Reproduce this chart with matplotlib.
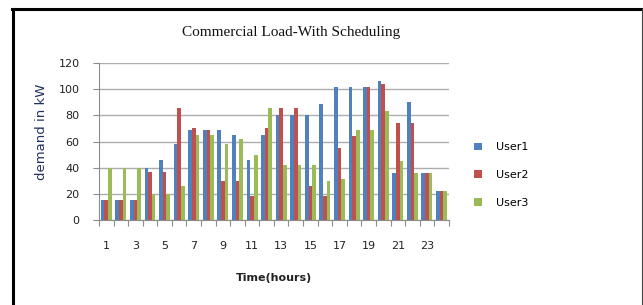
import matplotlib.pyplot as plt
from matplotlib.lines import Line2D
import numpy as np

# hourly demand (kW) per user
hours = np.arange(1, 25)
user1 = [15, 15, 15, 40, 46, 58, 69, 69, 69, 65, 46, 65,
         80, 80, 80, 89, 102, 102, 102, 106, 36, 90, 36, 22]
user2 = [15, 15, 15, 37, 37, 86, 70, 69, 30, 30, 18, 70,
         86, 86, 26, 18, 55, 64, 102, 104, 74, 74, 36, 22]
user3 = [40, 40, 40, 20, 20, 26, 65, 65, 58, 62, 50, 86,
         42, 42, 42, 30, 31, 69, 69, 83, 45, 36, 36, 22]
names = ['User1', 'User2', 'User3']
colors = ['#4F81BD', '#C0504D', '#9BBB59']
ylabels = [0, 20, 40, 60, 80, 100, 120]

fig = plt.figure(figsize=(6.43, 3.05), dpi=100)
ax = fig.add_axes([0.154, 0.279, 0.544, 0.514])

w = 0.25
for k, (vals, name, c) in enumerate(zip([user1, user2, user3], names, colors)):
    ax.bar(hours + (k - 1) * w, vals, width=w, color=c, label=name, zorder=3)

ax.set_xlim(0.5, 24.5)
ax.set_ylim(0, 120)
ax.set_yticks(ylabels)
ax.yaxis.grid(True, color='#adadad', linewidth=1.0, zorder=0)

# tick marks on category boundaries, labels on odd hours
ax.set_xticks(np.arange(0.5, 25, 1))
ax.set_xticklabels([])
ax.set_xticks(hours[::2], minor=True)
ax.set_xticklabels([str(h) for h in hours[::2]], minor=True)
ax.tick_params(axis='x', which='major', length=4, color='#8c8c8c', direction='out')
ax.tick_params(axis='x', which='minor', length=0, pad=15, labelsize=8, labelcolor='#222222')
ax.tick_params(axis='y', length=4, color='#8c8c8c', labelsize=8, labelcolor='#222222', pad=10)

for s in ['top', 'right']:
    ax.spines[s].set_visible(False)
for s in ['left', 'bottom']:
    ax.spines[s].set_color('#8c8c8c')

ax.set_xlabel('Time(hours)', fontsize=8, fontweight='bold', color='#222222')
ax.xaxis.set_label_coords(0.5, -0.34)
ax.set_ylabel('demand in kW', fontsize=9.5, color='#1f3060')
ax.yaxis.set_label_coords(-0.145, 0.56)

fig.text(0.453, 0.895, 'Commercial Load-With Scheduling', family='Liberation Serif',
         fontsize=11, ha='center', va='center', color='#111111')

ax.legend(loc='center left', bbox_to_anchor=(0.722, 0.426), bbox_transform=fig.transFigure,
          frameon=False, fontsize=8, handlelength=0.7, handleheight=0.7,
          labelspacing=1.6, handletextpad=1.3)

# outer frame of the picture
fig.add_artist(Line2D([13 / 643, 13 / 643], [0, 1 - 8.5 / 305], color='black',
                      linewidth=2.2, transform=fig.transFigure))
fig.add_artist(Line2D([12 / 643, 642 / 643], [1 - 8.5 / 305, 1 - 8.5 / 305], color='black',
                      linewidth=2.2, transform=fig.transFigure))
fig.add_artist(Line2D([641.5 / 643, 641.5 / 643], [0, 1 - 8.5 / 305], color='#444444',
                      linewidth=0.8, transform=fig.transFigure))

fig.savefig('out.png', dpi=100)
